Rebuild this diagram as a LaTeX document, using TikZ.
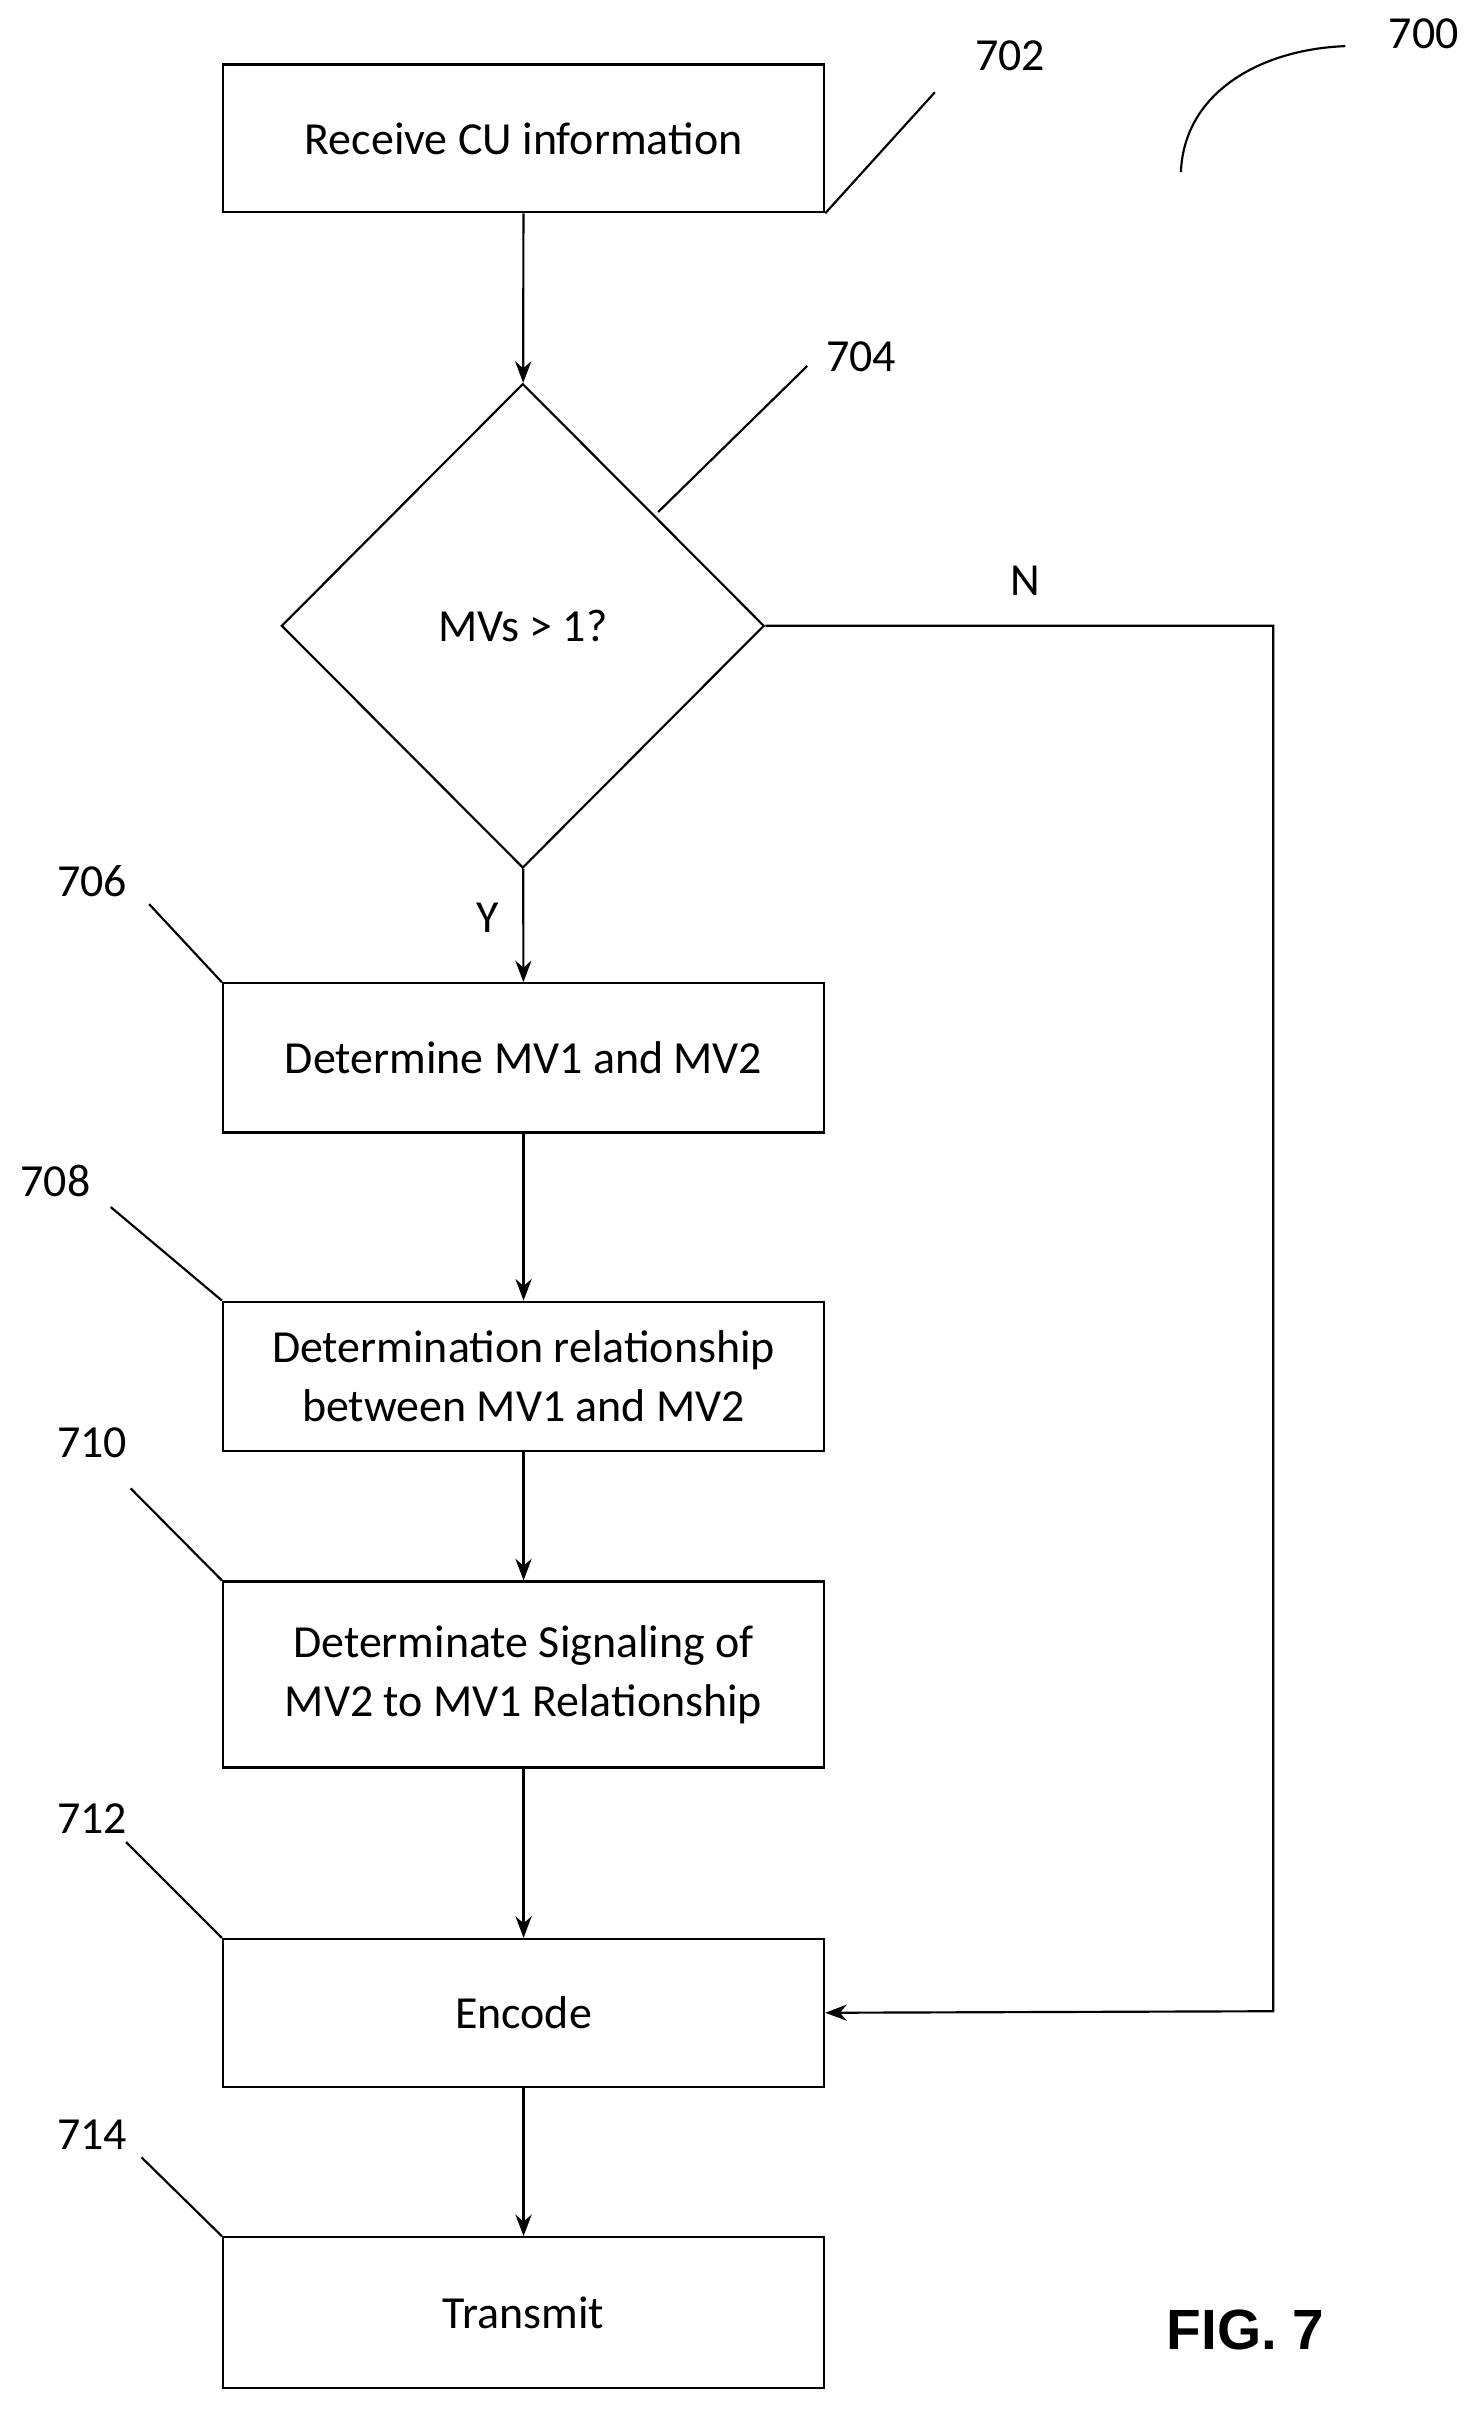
\documentclass[tikz,border=0pt]{standalone}
\usepackage{fontspec}
\setmainfont{Carlito}
\usetikzlibrary{arrows.meta,shapes.geometric}
\begin{document}
\begin{tikzpicture}[x=0.02cm,y=-0.02cm,
  box/.style={draw,line width=0.8pt,minimum width=391*0.02cm,align=center,font=\fontsize{17}{22}\selectfont},
  arr/.style={-{Stealth[length=8pt,width=6pt]},line width=0.8pt},
  lead/.style={line width=0.8pt},
  lab/.style={font=\fontsize{17}{20}\selectfont}]
\useasboundingbox (0,0) rectangle (963,1568);
\node[box,minimum height=96*0.02cm] (b702) at (340.5,90) {Receive CU information};
\node[draw,line width=0.8pt,diamond,aspect=1,minimum width=314*0.02cm,minimum height=315*0.02cm,inner sep=0pt,font=\fontsize{17}{22}\selectfont] (d704) at (340,407) {MVs > 1?};
\node[box,minimum height=97*0.02cm] (b706) at (340.5,688) {Determine MV1 and MV2};
\node[box,minimum height=97*0.02cm] (b708) at (340.5,895) {Determination relationship\\between MV1 and MV2};
\node[box,minimum height=121*0.02cm] (b710) at (340.5,1089) {Determinate Signaling of\\MV2 to MV1 Relationship};
\node[box,minimum height=96*0.02cm] (b712) at (340.5,1309) {Encode};
\node[box,minimum height=98*0.02cm] (b714) at (340.5,1504) {Transmit};
\draw[arr] (b702) -- (d704);
\draw[arr] (d704) -- (b706);
\draw[arr] (b706) -- (b708);
\draw[arr] (b708) -- (b710);
\draw[arr] (b710) -- (b712);
\draw[arr] (b712) -- (b714);
\coordinate (c1) at (828,407);
\coordinate (c2) at (828,1308);
\draw[arr] (d704.east) -- (c1) -- (c2) -- (b712.east);
\node[lab] (lN) at (667,378) {N};
\node[lab] (lY) at (317,597) {Y};
\node[lab] (l702) at (657,36) {702};
\node[lab] (l704) at (560,232) {704};
\node[lab] (l706) at (60,573) {706};
\node[lab] (l708) at (36,768) {708};
\node[lab] (l710) at (60,938) {710};
\node[lab] (l712) at (60,1183) {712};
\node[lab] (l714) at (60,1388) {714};
\node[lab] (l700) at (926,22) {700};
\coordinate (e702) at (608,60);
\coordinate (e704) at (525,238);
\coordinate (e706) at (97,588);
\coordinate (e708) at (72,785);
\coordinate (e710) at (85,968);
\coordinate (e712) at (82,1198);
\coordinate (e714) at (92,1403);
\coordinate (s704) at (428,333);
\draw[lead] (b702.south east) -- (e702);
\draw[lead] (s704) -- (e704);
\draw[lead] (b706.north west) -- (e706);
\draw[lead] (b708.north west) -- (e708);
\draw[lead] (b710.north west) -- (e710);
\draw[lead] (b712.north west) -- (e712);
\draw[lead] (b714.north west) -- (e714);
\coordinate (a1) at (768,112);
\coordinate (a2) at (875,30);
\draw[lead] (a1) .. controls (770,60) and (820,32) .. (a2);
\node[font=\fontsize{21}{25}\selectfont] (fig) at (810,1515) {\fontspec{Liberation Sans}\bfseries FIG. 7};
\end{tikzpicture}
\end{document}
